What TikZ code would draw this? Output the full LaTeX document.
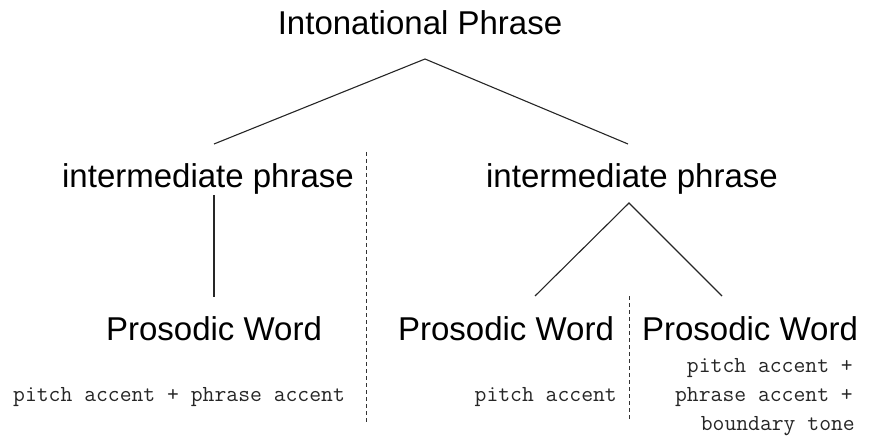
\documentclass[tikz,border=0pt]{standalone}
\usepackage{fontspec}
\setmainfont{Liberation Sans}
\begin{document}
\begin{tikzpicture}[x=1pt,y=-1pt,
  big/.style={inner sep=0pt,anchor=base,font=\fontsize{33}{38}\selectfont},
  small/.style={inner sep=0pt,text=black!85,font=\ttfamily\addfontfeature{FakeBold=0.6}\fontsize{23}{27}\selectfont},
  branch/.style={line width=1.1pt,black!85},
  divider/.style={line width=1pt,black!80,dash pattern=on 4pt off 3pt}]
\useasboundingbox (0,0) rectangle (871,441);
% labels
\node[big] (ip)  at (420,35)  {Intonational Phrase};
\node[big] (ipl) at (208,188) {intermediate phrase};
\node[big] (ipr) at (632,188) {intermediate phrase};
\node[big] (pwl) at (214,340) {Prosodic Word};
\node[big] (pwm) at (506,340) {Prosodic Word};
\node[big] (pwr) at (750,340) {Prosodic Word};
\node[small,anchor=base west] (tl) at (13,401) {pitch accent + phrase accent};
\node[small,anchor=base east] (tm) at (617,401) {pitch accent};
\node[small,anchor=base east] (tr1) at (853,372) {pitch accent +};
\node[small,anchor=base east] (tr2) at (853,401) {phrase accent +};
\node[small,anchor=base east] (tr3) at (855,430) {boundary tone};
% joints
\coordinate (ipB) at (425,59);
\coordinate (iplT) at (214,144);
\coordinate (iprT) at (628,144);
\coordinate (iplB) at (214,195);
\coordinate (pwlT) at (214,297);
\coordinate (iprB) at (629,203);
\coordinate (pwmT) at (535,296);
\coordinate (pwrT) at (722,296);
\coordinate (d1T) at (366,152);
\coordinate (d1B) at (366,423);
\coordinate (d2T) at (629,296);
\coordinate (d2B) at (629,421);
% branches
\draw[branch] (iplT) -- (ipB) -- (iprT);
\draw[branch] (iplB) -- (pwlT);
\draw[branch] (pwmT) -- (iprB) -- (pwrT);
% dividers
\draw[divider] (d1T) -- (d1B);
\draw[divider] (d2T) -- (d2B);
\end{tikzpicture}
\end{document}
